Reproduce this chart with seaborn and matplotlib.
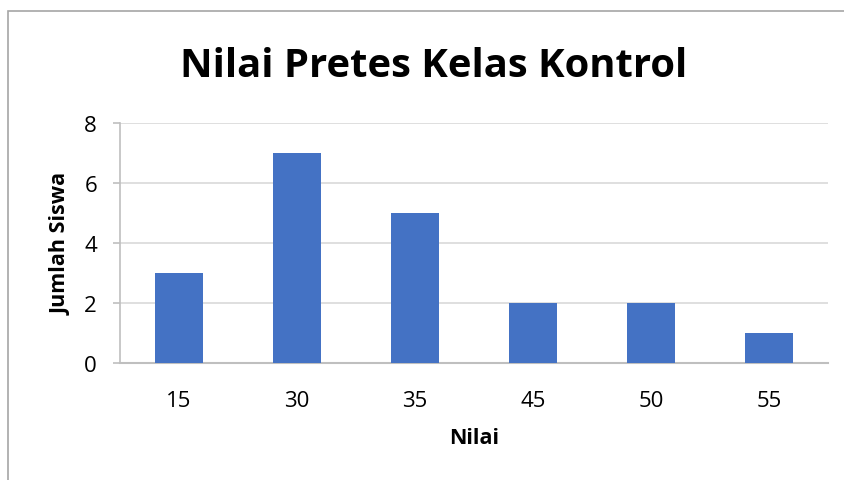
import matplotlib
matplotlib.use("Agg")
import matplotlib.pyplot as plt
import seaborn as sns
import pandas as pd
from matplotlib.patches import Rectangle

categories = ["15", "30", "35", "45", "50", "55"]
values = [3, 7, 5, 2, 2, 1]
yticks = [0, 2, 4, 6, 8]

sns.set_theme(style="white")
plt.rcParams['font.family'] = ['Open Sans', 'DejaVu Sans']
plt.rcParams['text.color'] = 'black'
plt.rcParams['axes.labelcolor'] = 'black'

df = pd.DataFrame({"Nilai": categories, "Jumlah Siswa": values})

fig = plt.figure(figsize=(8.45, 4.81), dpi=100)
ax = fig.add_axes([120/845, 1-364/481, 708/845, 240/481])

sns.barplot(data=df, x="Nilai", y="Jumlah Siswa", color="#4472C4",
            width=0.4, saturation=1, linewidth=0, ax=ax, zorder=3)

ax.set_ylim(0, 8)
ax.set_xlim(-0.5, len(categories)-0.5)
ax.set_yticks(yticks)
ax.yaxis.grid(True, color="#D9D9D9", linewidth=1.2, zorder=0)
ax.set_axisbelow(True)

for s in ["top", "right"]:
    ax.spines[s].set_visible(False)
ax.spines["left"].set_color("#BFBFBF")
ax.spines["left"].set_linewidth(1.2)
ax.spines["bottom"].set_color("#BFBFBF")
ax.spines["bottom"].set_linewidth(1.5)

ax.tick_params(axis="y", which="both", left=True, length=5, width=1.2,
               color="#BFBFBF", pad=11.5, labelsize=16, labelcolor="black")
ax.tick_params(axis="x", bottom=False, pad=13.5, labelsize=16, labelcolor="black")

ax.set_xlabel("Nilai", fontsize=15.5, fontweight="bold")
ax.set_ylabel("Jumlah Siswa", fontsize=15.5, fontweight="bold")
ax.xaxis.set_label_coords(0.5, (364-439)/240)
ax.xaxis.label.set_va("center")
ax.yaxis.set_label_coords((61-120)/708, 0.5)
ax.yaxis.label.set_va("center")

fig.text(434/845, 1-77/481, "Nilai Pretes Kelas Kontrol", ha="center", va="baseline",
         fontsize=28.8, fontweight="bold", color="black")

fig.patches.append(Rectangle((8.5/845, -0.1), 1.2, 1.1 - 11.5/481,
                             transform=fig.transFigure, fill=False,
                             edgecolor="#A6A6A6", linewidth=1.2))

fig.savefig("out.png", dpi=100)
